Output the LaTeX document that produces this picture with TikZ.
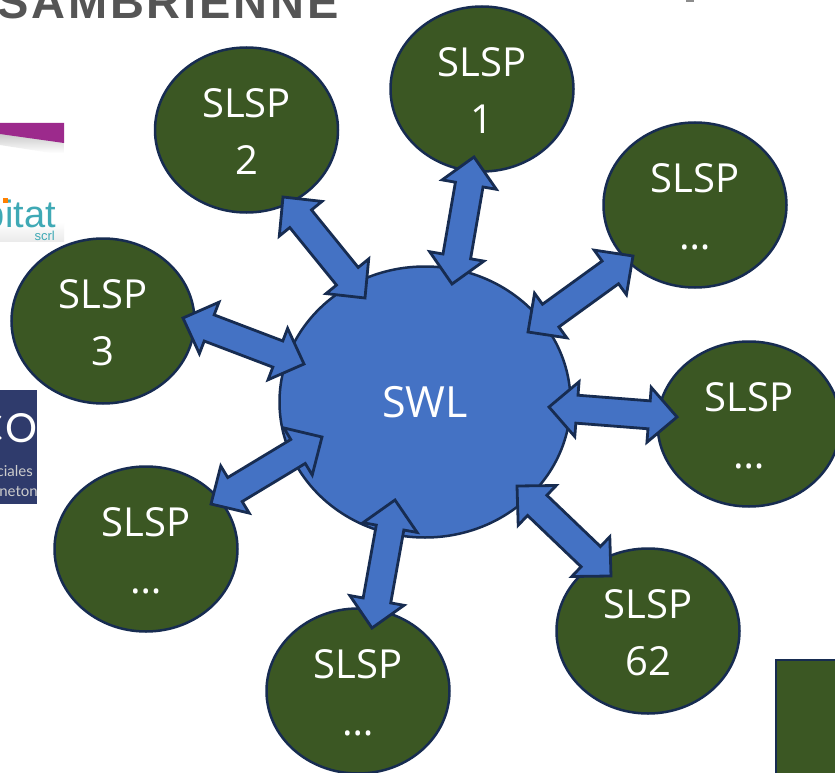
\documentclass[tikz,border=0pt]{standalone}
\usepackage{fontspec}
\setmainfont{Open Sans}
\newfontfamily\logofont{Liberation Sans}
\newfontfamily\logoserif{Lato}
\usetikzlibrary{shapes.geometric,calc}
\definecolor{swlblue}{HTML}{4472C4}
\definecolor{slspgreen}{HTML}{3B5723}
\definecolor{edgeblue}{HTML}{172C51}
\definecolor{logogrey}{HTML}{555555}
\definecolor{logopurple}{HTML}{9C2A8C}
\definecolor{logoteal}{HTML}{3FA9B5}
\definecolor{logonavy}{HTML}{2F3B6C}
\tikzset{
  x=1pt,y=-1pt,
  slsp/.style={ellipse,draw=edgeblue,line width=2.5pt,fill=slspgreen,text=white,
    minimum width=183pt,minimum height=165pt,inner sep=0pt,outer sep=0pt,align=center,
    font=\fontsize{40}{57}\selectfont},
  swl/.style={slsp,fill=swlblue,minimum width=291pt,minimum height=271pt,font=\fontsize{43}{58}\selectfont},
  blockarrow/.style={draw=edgeblue,fill=swlblue,line width=2.8pt,line join=miter,miter limit=10},
}
\newcommand{\slsptext}[1]{\rule{0pt}{32pt}SLSP\\\smash{#1}}
\newcommand{\dblarrow}[2]{%
  \draw[blockarrow] (#1)
   -- ($(#1)!28pt!(#2)!27.5pt!90:(#2)$)
   -- ($(#1)!28pt!(#2)!14pt!90:(#2)$)
   -- ($(#2)!28pt!(#1)!14pt!-90:(#1)$)
   -- ($(#2)!28pt!(#1)!27.5pt!-90:(#1)$)
   -- (#2)
   -- ($(#2)!28pt!(#1)!27.5pt!90:(#1)$)
   -- ($(#2)!28pt!(#1)!14pt!90:(#1)$)
   -- ($(#1)!28pt!(#2)!14pt!-90:(#2)$)
   -- ($(#1)!28pt!(#2)!27.5pt!-90:(#2)$)
   -- cycle;}
\begin{document}
\begin{tikzpicture}
\clip (0,0) rectangle (835,773);
\fill[white] (0,0) rectangle (835,773);
% cropped logo fragments
\node[anchor=base west,inner sep=0pt,text=logogrey,font=\logofont\bfseries\fontsize{47}{47}\selectfont\addfontfeatures{LetterSpace=6}] (logoa) at (-3,19) {SAMBRIENNE};
\fill[black!45] (686,0) rectangle (694,2);
\begin{scope}
  \clip (0,120) rectangle (64,245);
  \begin{scope}
    \clip (0,131) -- (64,141) -- (64,155) -- (0,145) -- cycle;
    \shade[top color=black!22,bottom color=white] (0,133) rectangle (64,153);
  \end{scope}
  \fill[logopurple] (0,123) -- (64,123) -- (64,143) -- (0,134) -- cycle;
  \shade[top color=white,bottom color=black!8] (0,222) rectangle (64,241);
  \node[anchor=base east,inner sep=0pt,text=logoteal,font=\logofont\fontsize{38}{38}\selectfont] (logob) at (56,227) {bitat};
  \fill[orange] (3,198) rectangle (8,203);
  \node[anchor=base east,inner sep=0pt,text=logoteal,font=\logofont\fontsize{13}{13}\selectfont] (logoc) at (55,240) {scrl};
\end{scope}
\begin{scope}
  \clip (0,390) rectangle (37,504);
  \fill[logonavy] (0,390) rectangle (37,504);
  \node[anchor=base west,inner sep=0pt,text=white,font=\logoserif\fontsize{40}{40}\selectfont] (logod) at (5,442) {O};
  \node[anchor=base west,inner sep=0pt,text=white,font=\logoserif\fontsize{40}{40}\selectfont] (logoe) at (-24,442) {C};
  \node[anchor=base east,inner sep=0pt,text=black!20,font=\logoserif\fontsize{15}{15}\selectfont] (logof) at (33,476) {ciales};
  \node[anchor=base east,inner sep=0pt,text=black!20,font=\logoserif\fontsize{15}{15}\selectfont] (logog) at (38,496) {neton};
\end{scope}
\node[rectangle,draw=edgeblue,line width=2.5pt,fill=slspgreen,anchor=north west,minimum width=80pt,minimum height=130pt,outer sep=0pt] (box) at (776,660) {};
% nodes
\node[swl] (c) at (425,402) {SWL};
\node[slsp] (s1) at (482,89) {\slsptext{1}};
\node[slsp] (s2) at (246.5,130) {\slsptext{2}};
\node[slsp] (s3) at (103,321) {\slsptext{3}};
\node[slsp] (s4) at (695,205) {\slsptext{…}};
\node[slsp] (s5) at (749,424) {\slsptext{…}};
\node[slsp] (s6) at (648,631) {\slsptext{62}};
\node[slsp] (s7) at (358,691) {\slsptext{…}};
\node[slsp] (s8) at (146,549) {\slsptext{…}};
% connector ends
\coordinate (a1) at (474,157); \coordinate (b1) at (452,284);
\coordinate (a2) at (283,197); \coordinate (b2) at (365,298);
\coordinate (a3) at (183,318); \coordinate (b3) at (304,364);
\coordinate (a4) at (633,256); \coordinate (b4) at (528,332);
\coordinate (a5) at (677,417); \coordinate (b5) at (549,407);
\coordinate (a6) at (611,576); \coordinate (b6) at (517,486);
\coordinate (a7) at (372,628); \coordinate (b7) at (395,500);
\coordinate (a8) at (211,504); \coordinate (b8) at (322,437);
\dblarrow{a1}{b1}
\dblarrow{a2}{b2}
\dblarrow{a3}{b3}
\dblarrow{a4}{b4}
\dblarrow{a5}{b5}
\dblarrow{a6}{b6}
\dblarrow{a7}{b7}
\dblarrow{a8}{b8}
\end{tikzpicture}
\end{document}
